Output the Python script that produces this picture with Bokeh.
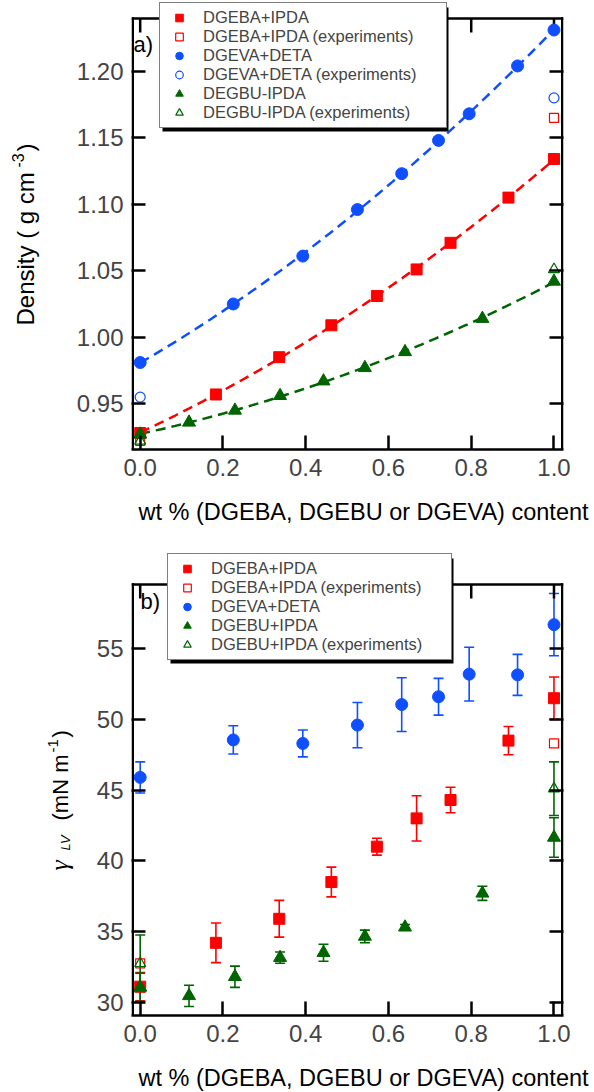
import numpy as np
from bokeh.plotting import figure
from bokeh.models import (ColumnDataSource, Whisker, TeeHead, Legend, LegendItem, LinearAxis,
                          FixedTicker, NumeralTickFormatter, Label, BoxAnnotation, Range1d)
from bokeh.layouts import column, row
from bokeh.embed import file_html
from bokeh.resources import INLINE

# ---------------- data ----------------
# (a) density
x_dgeba = [0.0, 0.183, 0.336, 0.462, 0.572, 0.668, 0.750, 0.890, 1.0]
dens_dgeba = [0.928, 0.957, 0.985, 1.009, 1.031, 1.051, 1.071, 1.105, 1.134]
x_dgeva = [0.0, 0.225, 0.393, 0.525, 0.632, 0.721, 0.795, 0.912, 1.0]
dens_dgeva = [0.981, 1.025, 1.061, 1.096, 1.123, 1.148, 1.168, 1.204, 1.231]
x_dgebu = [0.0, 0.118, 0.229, 0.338, 0.443, 0.543, 0.640, 0.827, 1.0]
dens_dgebu = [0.927, 0.936, 0.945, 0.956, 0.967, 0.977, 0.989, 1.014, 1.042]

x_exp = [0.0, 1.0]
dens_dgeba_exp = [0.922, 1.165]
dens_dgeva_exp = [0.955, 1.180]
dens_dgebu_exp = [0.922, 1.051]

# (b) surface tension gamma_LV (mN/m)
st_dgeba = [31.1, 34.2, 35.9, 38.5, 41.0, 43.0, 44.3, 48.5, 51.5]
st_dgeba_err = [1.0, 1.4, 1.3, 1.05, 0.6, 1.6, 0.9, 1.0, 1.5]
st_dgeva = [45.9, 48.55, 48.3, 49.6, 51.05, 51.6, 53.2, 53.15, 56.7]
st_dgeva_err = [1.1, 1.0, 0.95, 1.6, 1.9, 1.3, 1.9, 1.45, 2.2]
st_dgebu = [31.05, 30.45, 31.8, 33.15, 33.5, 34.65, 35.3, 37.7, 41.65]
st_dgebu_err = [1.0, 0.75, 0.75, 0.4, 0.6, 0.45, 0.2, 0.5, 1.4]
st_dgeba_exp = [32.75, 48.3]
st_dgebu_exp = [32.75, 45.1]
st_dgebu_exp_err = [2.0, 1.9]

# tick values
x_tick_values = [0.0, 0.2, 0.4, 0.6, 0.8, 1.0]
dens_tick_values = [0.95, 1.00, 1.05, 1.10, 1.15, 1.20]
st_tick_values = [30, 35, 40, 45, 50, 55]
x_title = "wt % (DGEBA, DGEBU or DGEVA) content"

# ---------------- style / geometry ----------------
RED = "#ff0000"
BLUE = "#0f4fff"
GREEN = "#006400"
FONT = "Liberation Sans"
LW = 2.5
MID = 0.3465    # 'alphabetic' anchor is drawn as box-middle: baseline lies this many em below it

PAGE_W = 594
FW = 432
XR = (-0.021, 1.023)
BOX_H = 431

YT_A_W = 62
HA = 490
TOP_A = 2
FH_A = 447
YA0, PXA = 0.9156, 1330.0
YT_B_W = 80
HB = 512
TOP_B = 8
FH_B = 463
YB0, PXB = 29.06, 14.14
XT_A_H = 54
B0 = HA + XT_A_H           # page y where panel (b) starts
XT_B_H = 1092 - B0 - HB


def main_fig(width, height, top, fh, y0, ppu, yticks, yfmt):
    left = 131 - (PAGE_W - width)
    y_end = y0 + fh / ppu
    y_box = y0 + BOX_H / ppu
    p = figure(width=width, height=height, x_range=Range1d(*XR), y_range=Range1d(y0, y_end),
               output_backend="svg", toolbar_location=None,
               min_border_left=left, min_border_right=width - left - FW,
               min_border_top=top, min_border_bottom=height - top - fh)
    p.xgrid.visible = False
    p.ygrid.visible = False
    p.outline_line_color = None
    p.background_fill_color = "white"
    p.border_fill_color = "white"
    xt = FixedTicker(ticks=x_tick_values, minor_ticks=[])
    yt = FixedTicker(ticks=yticks, minor_ticks=[])
    bx = p.xaxis[0]
    ly = p.yaxis[0]
    bx.ticker = xt
    bx.formatter = NumeralTickFormatter(format="0.0")
    ly.ticker = yt
    ly.formatter = NumeralTickFormatter(format=yfmt)
    right_ax = LinearAxis(ticker=yt, major_label_text_color=None, major_label_standoff=0)
    p.add_layout(right_ax, "right")
    for ax in [bx, ly, right_ax]:
        ax.major_tick_in = 14
        ax.major_tick_out = 0
        ax.minor_tick_in = 0
        ax.minor_tick_out = 0
        ax.major_tick_line_width = LW
        ax.major_label_text_font = FONT
        ax.major_label_text_font_size = "24px"
    bx.axis_line_width = LW
    ly.axis_line_color = None
    right_ax.axis_line_color = None
    right_ax.major_label_text_color = None
    bx.major_label_standoff = 9
    ly.major_label_standoff = 8
    for l, r, b, t in [(0, LW, 0, BOX_H + LW / 2), (FW - LW, FW, 0, BOX_H + LW / 2),
                       (0, FW, BOX_H - LW / 2, BOX_H + LW / 2)]:
        p.add_layout(BoxAnnotation(left=l, right=r, bottom=b, top=t,
                                   left_units="screen", right_units="screen",
                                   top_units="screen", bottom_units="screen",
                                   fill_color="black", fill_alpha=1.0, line_alpha=0))
    n = len(x_tick_values)
    p.segment(x0=x_tick_values, y0=[y_box] * n, x1=x_tick_values, y1=[y_box - 14 / ppu] * n,
              line_color="black", line_width=LW)
    return p


def text_fig(width, height, top=0, fh=None, page0=0):
    """Text-only figure; data y = -(page y), data x = page x offset inside the figure."""
    fh = height if fh is None else fh
    p = figure(width=width, height=height, x_range=Range1d(0, width),
               y_range=Range1d(-(page0 + top + fh), -(page0 + top)),
               x_axis_type=None, y_axis_type=None,
               min_border_left=0, min_border_right=0, min_border_top=top,
               min_border_bottom=height - top - fh,
               output_backend="svg", toolbar_location=None)
    p.outline_line_color = None
    p.background_fill_color = "white"
    p.border_fill_color = "white"
    p.xgrid.visible = False
    p.ygrid.visible = False
    return p


def add_label(p, x, y, text, size, align="left", font=FONT, style="normal", angle=0.0, units="data"):
    p.add_layout(Label(x=x, y=y, x_units=units, y_units=units, text=text, angle=angle,
                       text_font=font, text_font_size=f"{size}px", text_font_style=style,
                       text_align=align, text_baseline="alphabetic", text_color="black"))


def hlabel(p, page_x, baseline_page_y, text, size, align="left"):
    add_label(p, page_x, -(baseline_page_y - MID * size), text, size, align=align)


def vtitle(p, baseline_x, pieces):
    for text, font, size, style, start_page_y, perp in pieces:
        add_label(p, baseline_x + perp - MID * size, -start_page_y, text, size,
                  font=font, style=style, angle=np.pi / 2)


def whisker(p, xs, ys, errs, color):
    src = ColumnDataSource(dict(x=xs, upper=[y + e for y, e in zip(ys, errs)],
                                lower=[y - e for y, e in zip(ys, errs)]))
    w = Whisker(source=src, base="x", upper="upper", lower="lower",
                line_color=color, line_width=1.6,
                upper_head=TeeHead(size=10, line_color=color, line_width=1.6),
                lower_head=TeeHead(size=10, line_color=color, line_width=1.6))
    p.add_layout(w)


def legend(p, items, loc, wbox, nrows, label_w):
    hbox = 10 + 19 * nrows
    shadow = BoxAnnotation(left=loc[0] + 3, right=loc[0] + wbox + 3, bottom=loc[1] - 3, top=loc[1] + hbox - 3,
                           left_units="screen", right_units="screen", top_units="screen", bottom_units="screen",
                           fill_color="black", fill_alpha=1.0, line_alpha=0)
    p.add_layout(shadow)
    lg = Legend(items=items, location=loc, label_text_font=FONT, label_text_font_size="16.5px",
                glyph_width=28, glyph_height=19, label_height=19, label_width=label_w, label_standoff=10,
                padding=5, spacing=0, margin=0, border_line_color="black", border_line_width=1.5,
                background_fill_color="white", background_fill_alpha=1.0)
    p.add_layout(lg)


# ---------------- (a) density ----------------
pa = main_fig(PAGE_W - YT_A_W, HA, TOP_A, FH_A, YA0, PXA, dens_tick_values, "0.00")

for xs, ys, c in [(x_dgeva, dens_dgeva, BLUE), (x_dgeba, dens_dgeba, RED), (x_dgebu, dens_dgebu, GREEN)]:
    coef = np.polyfit(xs, ys, 2)
    xf = np.linspace(min(xs), max(xs), 60)
    pa.line(xf, np.polyval(coef, xf), line_color=c, line_width=2.5, line_dash="10 6")

ra1 = pa.scatter(x_dgeba, dens_dgeba, marker="square", size=11, fill_color=RED, line_color=RED)
ra2 = pa.scatter(x_exp, dens_dgeba_exp, marker="square", size=9, fill_color=None, line_color=RED, line_width=1.2)
ra3 = pa.scatter(x_dgeva, dens_dgeva, marker="circle", size=12, fill_color=BLUE, line_color=BLUE)
ra4 = pa.scatter(x_exp, dens_dgeva_exp, marker="circle", size=10, fill_color=None, line_color=BLUE, line_width=1.2)
ra5 = pa.scatter(x_dgebu, dens_dgebu, marker="triangle", size=13, fill_color=GREEN, line_color=GREEN)
ra6 = pa.scatter(x_exp, dens_dgebu_exp, marker="triangle", size=11, fill_color=None, line_color=GREEN, line_width=1.2)

legend(pa, [LegendItem(label="DGEBA+IPDA", renderers=[ra1]),
            LegendItem(label="DGEBA+IPDA (experiments)", renderers=[ra2]),
            LegendItem(label="DGEVA+DETA", renderers=[ra3]),
            LegendItem(label="DGEVA+DETA (experiments)", renderers=[ra4]),
            LegendItem(label="DEGBU-IPDA", renderers=[ra5]),
            LegendItem(label="DEGBU-IPDA (experiments)", renderers=[ra6])],
       (28, 449 - 128), 286, 6, 238)

add_label(pa, 2, 449 - (52 - MID * 22), "a)", 22, units="screen")

ya_title = text_fig(YT_A_W, HA, TOP_A, FH_A, 0)
vtitle(ya_title, 33.5, [
    ("Density ( g cm", FONT, 24, "normal", 325, 0),
    ("-3", FONT, 16, "normal", 167, -10),
    (")", FONT, 24, "normal", 151, 0),
])

xa_title = text_fig(PAGE_W, XT_A_H, 0, XT_A_H, HA)
hlabel(xa_title, 363, 520, x_title, 23.5, align="center")

# ---------------- (b) surface tension ----------------
pb = main_fig(PAGE_W - YT_B_W, HB, TOP_B, FH_B, YB0, PXB, st_tick_values, "0")

whisker(pb, x_dgeva, st_dgeva, st_dgeva_err, BLUE)
whisker(pb, x_dgeba, st_dgeba, st_dgeba_err, RED)
whisker(pb, x_dgebu, st_dgebu, st_dgebu_err, GREEN)
whisker(pb, x_exp, st_dgebu_exp, st_dgebu_exp_err, GREEN)

rb2 = pb.scatter(x_exp, st_dgeba_exp, marker="square", size=9, fill_color=None, line_color=RED, line_width=1.2)
rb5 = pb.scatter(x_exp, st_dgebu_exp, marker="triangle", size=11, fill_color=None, line_color=GREEN, line_width=1.2)
rb1 = pb.scatter(x_dgeba, st_dgeba, marker="square", size=11, fill_color=RED, line_color=RED)
rb3 = pb.scatter(x_dgeva, st_dgeva, marker="circle", size=12, fill_color=BLUE, line_color=BLUE)
rb4 = pb.scatter(x_dgebu, st_dgebu, marker="triangle", size=13, fill_color=GREEN, line_color=GREEN)

legend(pb, [LegendItem(label="DGEBA+IPDA", renderers=[rb1]),
            LegendItem(label="DGEBA+IPDA (experiments)", renderers=[rb2]),
            LegendItem(label="DGEVA+DETA", renderers=[rb3]),
            LegendItem(label="DGEBU+IPDA", renderers=[rb4]),
            LegendItem(label="DGEBU+IPDA (experiments)", renderers=[rb5])],
       (36, 1015 - 660), 283, 5, 235)

add_label(pb, 9, 1015 - (609 - MID * 22), "b)", 22, units="screen")

yb_title = text_fig(YT_B_W, HB, TOP_B, FH_B, B0)
vtitle(yb_title, 68, [
    ("γ", "Liberation Serif", 26, "italic", 870, 0),
    ("LV", FONT, 13, "italic", 850, 2),
    ("(mN m", FONT, 22, "normal", 820, 0),
    ("-1", FONT, 15, "normal", 752, -10),
    (")", FONT, 22, "normal", 737, 0),
])

xb_title = text_fig(PAGE_W, XT_B_H, 0, XT_B_H, B0 + HB)
hlabel(xb_title, 363, 1086, x_title, 23.5, align="center")

layout = column(row(ya_title, pa, spacing=0), xa_title,
                row(yb_title, pb, spacing=0), xb_title, spacing=0)
open("out.html", "w").write(file_html(layout, INLINE))
